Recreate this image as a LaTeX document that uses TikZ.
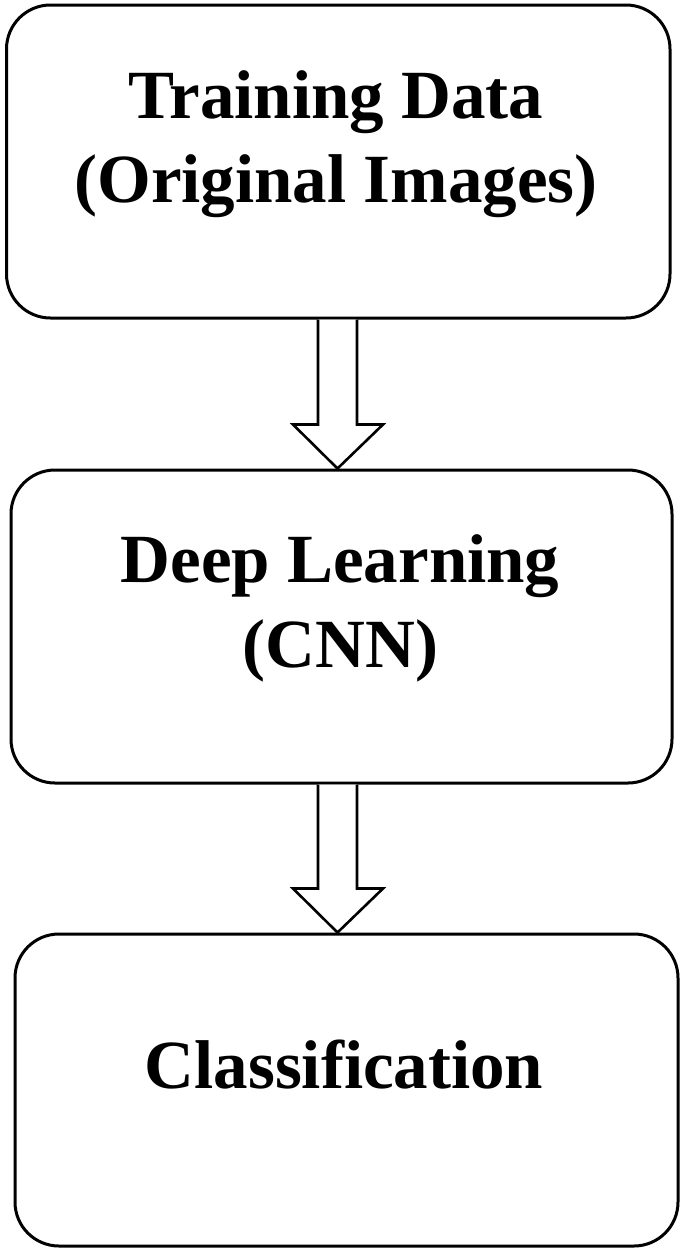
\documentclass[tikz,border=0pt]{standalone}
\usepackage{fontspec}
\setmainfont{Liberation Serif}
\usetikzlibrary{calc}
\begin{document}
\begin{tikzpicture}[x=1pt,y=-1pt,
  box/.style={draw=black,line width=3pt,rounded corners=44pt,inner sep=0pt},
  lbl/.style={font=\fontsize{69}{80}\selectfont\bfseries,anchor=base,inner sep=0pt},
  blockarrow/.style={draw=black,line width=2.6pt,fill=white,line join=miter}]
\useasboundingbox (0,0) rectangle (685,1254);
\node[box,minimum width=663.5pt,minimum height=313pt] (b1) at (338.25,161.5) {};
\node[box,minimum width=661pt,minimum height=313pt] (b2) at (341.5,626.5) {};
\node[box,minimum width=663pt,minimum height=312pt] (b3) at (346.5,1090) {};
\node[lbl] (t1a) at (336,118) {Training Data};
\node[lbl] (t1b) at (336,202) {(Original Images)};
\node[lbl] (t2a) at (340,582) {Deep Learning};
\node[lbl] (t2b) at (340.5,667) {(CNN)};
\node[lbl] (t3) at (344,1088) {Classification};
\coordinate (a1top) at ($(b1.south)+(-0.75,0)$);
\coordinate (a1tip) at (a1top |- b2.north);
\coordinate (a2top) at (a1top |- b2.south);
\coordinate (a2tip) at (a1top |- b3.north);
\foreach \s/\t in {a1top/a1tip,a2top/a2tip}{
  \draw[blockarrow] ($(\s)+(-19.5,0)$) -- ($(\t)+(-19.5,-44)$) -- ($(\t)+(-44.5,-44)$)
    -- (\t) -- ($(\t)+(45.5,-44)$) -- ($(\t)+(19.5,-44)$) -- ($(\s)+(19.5,0)$);
}
\end{tikzpicture}
\end{document}
